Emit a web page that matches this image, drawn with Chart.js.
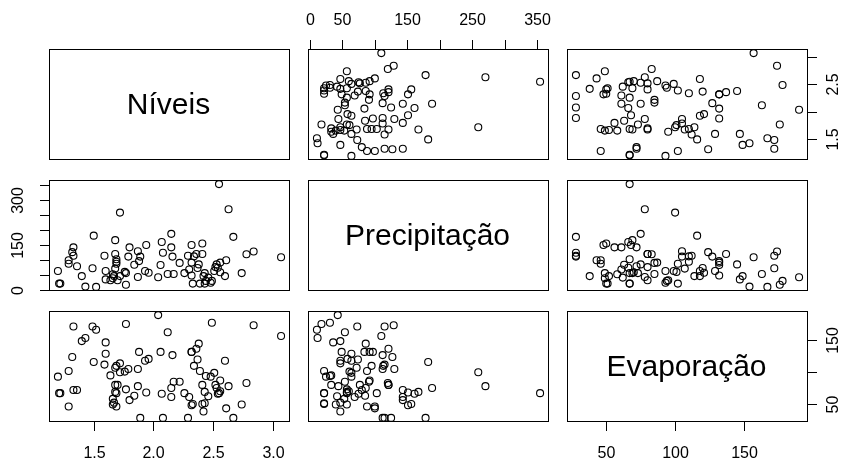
<!DOCTYPE html>
<html><head><meta charset="utf-8">
<script src="https://cdn.jsdelivr.net/npm/chart.js@4.4.1/dist/chart.umd.min.js"></script>
<style>
html,body{margin:0;padding:0;background:#fff;}
#wrap{position:relative;width:846px;height:461px;background:#fff;}
#wrap canvas{position:absolute;left:0;top:0;}
</style></head><body><div id="wrap"></div>
<script>
const varNames = ["Níveis", "Precipitação", "Evaporação"];

const niveis = [2.04,1.77,2.49,2.84,1.33,1.49,1.52,2.12,3.07,1.43,
1.40,1.60,2.38,2.36,2.32,2.32,1.88,2.06,1.60,2.16,
1.32,1.96,2.37,1.93,2.60,1.50,1.72,1.59,2.34,1.69,
1.68,1.79,1.87,1.29,1.76,1.72,2.51,1.64,2.44,1.20,
2.48,2.17,2.22,2.78,2.41,2.52,1.68,1.70,2.63,1.87,
2.15,2.53,1.77,1.33,1.36,2.56,1.68,2.43,1.94,1.21,
1.22,2.26,1.69,2.55,2.07,2.54,1.84,2.46,2.15,2.30,
1.66,1.80,1.67,2.43,2.33,2.41,1.66,2.74,2.32,1.29,
1.69,2.61,2.42,2.67,2.29,1.89,2.08,2.56,2.39];

const precipitacao = [43,18,31,129,115,73,11,54,110,12,
47,36,86,121,49,92,97,84,64,112,
127,58,74,64,47,182,47,115,113,95,
72,112,130,88,61,259,64,33,31,64,
25,54,91,120,121,77,121,33,270,44,
188,86,57,143,80,60,167,57,151,22,
22,57,103,354,161,75,85,42,143,69,
53,143,47,22,22,156,40,57,151,100,
88,100,47,178,115,112,125,92,22];

const evaporacao = [190,176,178,174,172,172,167,163,157,154,
149,147,145,137,132,132,132,132,129,127,
124,121,120,118,118,116,114,112,110,110,
107,105,105,102,101,100,99,95,94,93,
93,85,85,83,80,80,80,80,78,78,
75,75,73,72,72,70,69,69,68,67,
67,67,67,67,66,66,63,62,61,61,
58,56,52,51,50,50,49,49,48,46,
46,43,38,28,28,28,28,87,102];

const nTicks = [1.5, 2.0, 2.5, 3.0];
const nTickLabelsBottom = ["1.5", "2.0", "2.5", "3.0"];
const nTickLabelsRight = ["1.5", "", "2.5", ""];
const pTicks = [0, 50, 100, 150, 200, 250, 300, 350];
const pTickLabelsTop = ["0", "50", "", "150", "", "250", "", "350"];
const pTickLabelsLeft = ["0", "", "", "150", "", "", "300", ""];
const eTicks = [50, 100, 150];
const eTickLabelsBottom = ["50", "100", "150"];
const eTickLabelsRight = ["50", "", "150"];

const W = 846, H = 461;
const colLeft = [49, 308, 567];
const rowTop = [49, 180, 311];
const boxW = 241, boxH = 111;
const TL = 9;
const FONT = '"Liberation Sans", Arial, sans-serif';

function padRange(arr) {
  const mn = Math.min(...arr), mx = Math.max(...arr);
  const p = 0.04 * (mx - mn);
  return [mn - p, mx + p];
}
const vars = [niveis, precipitacao, evaporacao];
const ranges = vars.map(padRange);

const axesSpec = {
  "0,1": [{side: 'top', axis: 'x', ticks: pTicks, labels: pTickLabelsTop}],
  "0,2": [{side: 'right', axis: 'y', ticks: nTicks, labels: nTickLabelsRight}],
  "1,0": [{side: 'left', axis: 'y', ticks: pTicks, labels: pTickLabelsLeft}],
  "2,0": [{side: 'bottom', axis: 'x', ticks: nTicks, labels: nTickLabelsBottom}],
  "2,2": [{side: 'bottom', axis: 'x', ticks: eTicks, labels: eTickLabelsBottom},
          {side: 'right', axis: 'y', ticks: eTicks, labels: eTickLabelsRight}]
};

const panelPlugin = {
  id: 'pairsPanel',
  afterDraw(chart, args, opts) {
    const ctx = chart.ctx, a = chart.chartArea;
    ctx.save();
    ctx.strokeStyle = '#000';
    ctx.lineWidth = 1;
    ctx.strokeRect(Math.round(a.left) + 0.5, Math.round(a.top) + 0.5,
                   Math.round(a.right - a.left) - 1, Math.round(a.bottom - a.top) - 1);
    ctx.fillStyle = '#000';
    if (opts.label) {
      ctx.font = '30px ' + FONT;
      ctx.textAlign = 'center';
      ctx.textBaseline = 'middle';
      ctx.fillText(opts.label, (a.left + a.right) / 2 - 1, (a.top + a.bottom) / 2 + 1);
    }
    (opts.axes || []).forEach(ax => {
      const sc = chart.scales[ax.axis];
      ctx.font = '16px ' + FONT;
      ctx.textAlign = 'center';
      ctx.textBaseline = 'middle';
      ax.ticks.forEach((v, i) => {
        const p = Math.round(sc.getPixelForValue(v)) + 0.5;
        ctx.beginPath();
        if (ax.side === 'top') { ctx.moveTo(p, a.top); ctx.lineTo(p, a.top - TL); }
        if (ax.side === 'bottom') { ctx.moveTo(p, a.bottom); ctx.lineTo(p, a.bottom + TL); }
        if (ax.side === 'left') { ctx.moveTo(a.left, p); ctx.lineTo(a.left - TL, p); }
        if (ax.side === 'right') { ctx.moveTo(a.right, p); ctx.lineTo(a.right + TL, p); }
        ctx.stroke();
        const lab = ax.labels[i];
        if (!lab) return;
        if (ax.side === 'top') ctx.fillText(lab, p, a.top - 28);
        if (ax.side === 'bottom') ctx.fillText(lab, p, a.bottom + 32);
        if (ax.side === 'left' || ax.side === 'right') {
          ctx.save();
          ctx.translate(ax.side === 'left' ? a.left - 30 : a.right + 26, p);
          ctx.rotate(-Math.PI / 2);
          ctx.fillText(lab, 0, 0);
          ctx.restore();
        }
      });
    });
    ctx.restore();
  }
};

const wrap = document.getElementById('wrap');
for (let r = 0; r < 3; r++) {
  for (let c = 0; c < 3; c++) {
    const cv = document.createElement('canvas');
    cv.width = W; cv.height = H;
    cv.style.width = W + 'px'; cv.style.height = H + 'px';
    wrap.appendChild(cv);
    const pts = (r === c) ? [] : vars[c].map((x, i) => ({x: x, y: vars[r][i]}));
    new Chart(cv.getContext('2d'), {
      type: 'scatter',
      data: {datasets: [{
        data: pts,
        pointStyle: 'circle',
        pointRadius: 3.5,
        pointBorderWidth: 1.1,
        pointBorderColor: '#000',
        pointBackgroundColor: 'rgba(0,0,0,0)',
        showLine: false
      }]},
      options: {
        responsive: false,
        devicePixelRatio: 1,
        animation: false,
        events: [],
        layout: {padding: {left: colLeft[c], top: rowTop[r],
                           right: W - colLeft[c] - boxW, bottom: H - rowTop[r] - boxH}},
        scales: {
          x: {type: 'linear', display: false, min: ranges[c][0], max: ranges[c][1]},
          y: {type: 'linear', display: false, min: ranges[r][0], max: ranges[r][1]}
        },
        plugins: {
          legend: {display: false},
          tooltip: {enabled: false},
          pairsPanel: {label: r === c ? varNames[r] : null, axes: axesSpec[r + ',' + c] || []}
        }
      },
      plugins: [panelPlugin]
    });
  }
}
</script>
</body></html>
